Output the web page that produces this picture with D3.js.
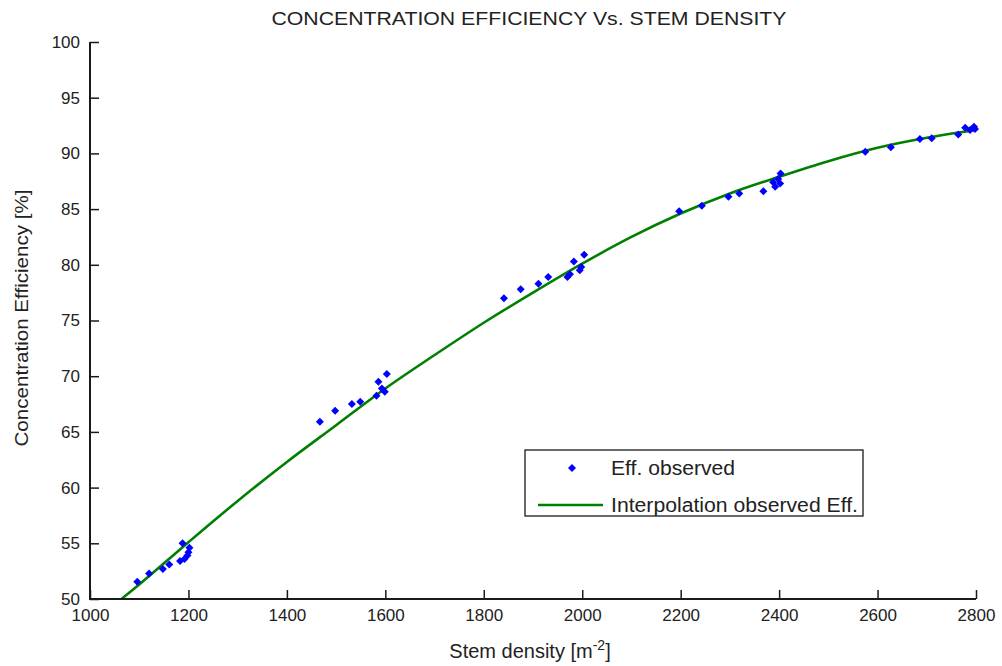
<!DOCTYPE html>
<html><head><meta charset="utf-8">
<script src="https://cdn.jsdelivr.net/npm/d3@7"></script>
<style>body{margin:0;background:#fff}svg{display:block}text{font-family:"Liberation Sans",Arial,sans-serif;fill:#222}</style>
</head><body><svg id="c" width="1002" height="666"></svg>
<script>
// observed points
const obsX = [1096,1120,1148,1161,1183,1188,1192,1198,1200,1202,
  1467,1498,1532,1549,1582,1586,1593,1599,1603,
  1841,1875,1911,1931,1970,1975,1983,1995,1998,2004,
  2197,2243,2297,2319,2368,2392,2388,2402,2398,2403,
  2575,2627,2686,2710,2764,2778,2788,2796,2798];
const obsY = [51.55,52.3,52.7,53.1,53.4,55.0,53.6,53.9,54.2,54.6,
  65.9,66.9,67.5,67.7,68.25,69.5,68.9,68.6,70.2,
  77.0,77.8,78.3,78.9,78.9,79.15,80.3,79.5,79.8,80.9,
  84.8,85.3,86.1,86.4,86.6,87.0,87.4,87.3,87.7,88.2,
  90.15,90.55,91.3,91.35,91.7,92.3,92.1,92.4,92.2];
// interpolation curve
const fitX = [1064,1100,1200,1300,1400,1500,1600,1700,1800,1900,2000,2100,2200,2300,2400,2500,2600,2700,2800];
const fitY = [50.0,51.3,55.1,58.8,62.3,65.6,68.9,71.9,74.8,77.5,80.1,82.5,84.6,86.4,87.9,89.3,90.5,91.4,92.1];
const xTicks = [1000,1200,1400,1600,1800,2000,2200,2400,2600,2800];
const yTicks = [50,55,60,65,70,75,80,85,90,95,100];
const legendLabels = ["Eff. observed","Interpolation observed Eff."];

const svg = d3.select("#c");
const L=90,R=976,T=42,B=599;
const x = d3.scaleLinear().domain([1000,2800]).range([L,R]);
const y = d3.scaleLinear().domain([50,100]).range([B,T]);
const AX="#1a1a1a";

const fit = fitX.map((v,i)=>[v,fitY[i]]);
svg.append("path").datum(fit.filter(d=>d[1]>=50))
  .attr("d",d3.line().x(d=>x(d[0])).y(d=>y(d[1])).curve(d3.curveMonotoneX))
  .attr("fill","none").attr("stroke","#008000").attr("stroke-width",2.6);

const diamond = s=>`M0,${-s}L${s},0L0,${s}L${-s},0Z`;
svg.append("g").selectAll("path").data(obsX.map((v,i)=>[v,obsY[i]])).join("path")
  .attr("transform",d=>`translate(${x(d[0])},${y(d[1])})`)
  .attr("d",diamond(4)).attr("fill","#0000ff");

// axis frame (filled rects)
svg.append("rect").attr("x",L-1).attr("y",T).attr("width",2).attr("height",B-T+1).attr("fill",AX);
svg.append("rect").attr("x",L-1).attr("y",B-1).attr("width",R-L+1).attr("height",2).attr("fill",AX);

// axes
const xa = svg.append("g").attr("transform",`translate(0,${B})`)
  .call(d3.axisBottom(x).tickValues(xTicks).tickFormat(d3.format("d")).tickSizeInner(-9).tickSizeOuter(0).tickPadding(13));
const ya = svg.append("g").attr("transform",`translate(${L},0)`)
  .call(d3.axisLeft(y).tickValues(yTicks).tickFormat(d3.format("d")).tickSizeInner(-9).tickSizeOuter(0).tickPadding(10));
[xa,ya].forEach(a=>{a.select(".domain").remove();
  a.selectAll("line").attr("stroke",AX).attr("stroke-width",1.5);
  a.selectAll("text").style("font-size","17px").attr("fill","#222");});
xa.selectAll("text").attr("dy","0.55em");

// title and labels
svg.append("text").attr("x",529).attr("y",25).attr("text-anchor","middle")
  .attr("textLength",515).attr("lengthAdjust","spacingAndGlyphs")
  .style("font-size","19px").text("CONCENTRATION EFFICIENCY Vs. STEM DENSITY");
const xl = svg.append("text").attr("x",530).attr("y",658).attr("text-anchor","middle").style("font-size","20px");
xl.append("tspan").text("Stem density [m");
xl.append("tspan").attr("dy",-8).style("font-size","14px").text("-2");
xl.append("tspan").attr("dy",8).text("]");
svg.append("text").attr("transform","translate(28,318) rotate(-90)").attr("text-anchor","middle")
  .attr("textLength",257).attr("lengthAdjust","spacingAndGlyphs")
  .style("font-size","19px").text("Concentration Efficiency [%]");

// legend
const lg = svg.append("g");
lg.append("rect").attr("x",525).attr("y",450).attr("width",338).attr("height",66)
  .attr("fill","#fff").attr("stroke",AX).attr("stroke-width",1.3);
lg.append("path").attr("transform","translate(572,468)").attr("d",diamond(4)).attr("fill","#0000ff");
lg.append("line").attr("x1",538).attr("x2",603).attr("y1",505).attr("y2",505).attr("stroke","#008000").attr("stroke-width",2.6);
lg.append("text").attr("x",611).attr("y",475).attr("textLength",124).attr("lengthAdjust","spacingAndGlyphs")
  .style("font-size","20px").text(legendLabels[0]);
lg.append("text").attr("x",611).attr("y",512).attr("textLength",247).attr("lengthAdjust","spacingAndGlyphs")
  .style("font-size","20px").text(legendLabels[1]);
</script></body></html>
